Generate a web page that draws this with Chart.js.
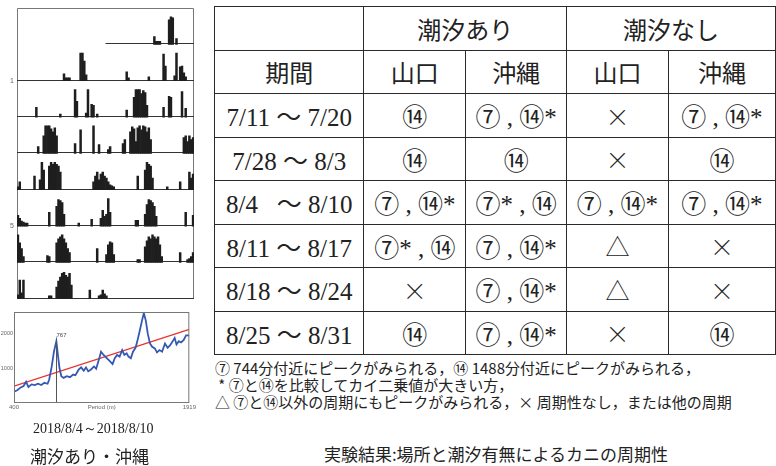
<!DOCTYPE html>
<html lang="ja">
<head>
<meta charset="UTF-8">
<title>実験結果:場所と潮汐有無によるカニの周期性</title>
<script src="https://cdn.jsdelivr.net/npm/chart.js@4.4.0/dist/chart.umd.min.js"></script>
<style>
body { margin:0; background:#fff; width:776px; height:466px; overflow:hidden; position:relative;
       font-family:"Noto Sans CJK JP", sans-serif; color:#222; }
#actoBox { position:absolute; left:0; top:0; width:195px; height:306px; }
#periodBox { position:absolute; left:0; top:305px; width:198px; height:110px; }
#dateCap { position:absolute; left:33px; top:420px; font:14px "Liberation Serif", serif; white-space:nowrap; }
#siteCap { position:absolute; left:30px; top:443px; font-size:17px; white-space:nowrap; }
#result { position:absolute; left:214px; top:6px; border-collapse:collapse; table-layout:fixed;
          font-family:"Liberation Serif","Noto Sans CJK JP",serif; font-size:25px; color:#222; }
#result td { border:1.5px solid #2a2a2a; padding:0; text-align:center; white-space:nowrap; overflow:hidden; }
#result tr { height:43.5px; }
#result td.jp { font-family:"Noto Sans CJK JP", sans-serif; font-size:24px; }
#result .mark { font-family:"Noto Sans CJK JP", sans-serif; font-weight:300; font-size:24px; }
#notes { position:absolute; left:215px; top:359px; font-size:15px; line-height:17px; white-space:nowrap; }
#title { position:absolute; left:296px; width:400px; top:441px; text-align:center; font-size:17px; white-space:nowrap; }
</style>
</head>
<body>

<div id="actoBox"><canvas id="actogram"></canvas></div>
<div id="periodBox"><canvas id="periodogram"></canvas></div>
<div id="dateCap">2018/8/4～2018/8/10</div>
<div id="siteCap">潮汐あり・沖縄</div>

<table id="result">
  <colgroup><col style="width:152px"><col style="width:104px"><col style="width:103px"><col style="width:104px"><col style="width:110px"></colgroup>
  <tbody id="resultBody"></tbody>
</table>

<div id="notes">
  <div>⑦ 744分付近にピークがみられる，⑭ 1488分付近にピークがみられる，</div>
  <div>&nbsp;* ⑦と⑭を比較してカイ二乗値が大きい方，</div>
  <div>△ ⑦と⑭以外の周期にもピークがみられる，× 周期性なし，または他の周期</div>
</div>
<div id="title">実験結果:場所と潮汐有無によるカニの周期性</div>

<script>
// activity counts, 96 bins of 15 min per day (null = not recorded yet)
var act1 = [null,null,null,null,null,null,null,null,null,null,null,null,
            null,null,null,null,null,null,null,null,null,null,null,null,
            null,null,null,null,null,null,null,null,null,null,null,null,
            null,null,null,null,null,null,null,null,null,null,null,null,
            0,0,0,0,0,0,0,0,0,0,0,0,
            0,0,0,0,0,0,0,0,0,0,0,0,
            0,0,8,3,3,3,0,0,0,0,25,28,
            27,0,6,0,0,0,0,0,0,0,0,0];
var act2 = [0,0,0,0,0,0,0,0,0,0,0,0,
            0,0,0,0,0,0,0,0,0,0,0,0,
            0,7,3,3,3,0,0,0,0,0,28,28,
            20,6,0,0,0,0,0,0,0,0,0,0,
            0,0,0,0,0,0,0,0,0,0,0,9,
            3,0,0,0,0,0,0,0,0,0,0,4,
            0,0,0,0,0,0,0,27,15,0,0,0,
            0,5,28,0,14,15,8,4,0,0,0,0];
var act3 = [0,0,0,0,0,0,0,0,0,0,10,0,
            0,0,0,0,0,0,0,0,0,0,0,3,
            0,0,0,0,0,0,0,28,16,0,0,0,
            0,4,28,0,13,12,0,3,0,0,0,0,
            0,0,0,0,0,0,0,0,0,0,0,7,
            0,0,0,20,28,28,28,24,27,25,12,0,
            0,0,0,0,0,0,0,10,0,0,21,20,
            0,0,0,0,0,26,0,9,0,0,0,0];
var act4 = [0,0,0,0,0,0,0,0,0,0,0,7,
            0,0,18,28,28,28,25,22,26,18,0,0,
            0,0,0,0,0,0,0,10,0,0,24,0,
            0,0,0,0,0,28,0,0,9,0,0,0,
            0,4,7,0,0,0,0,0,0,10,14,0,
            0,22,27,25,12,26,28,24,28,27,22,26,
            14,0,0,0,0,0,0,0,0,0,0,0,
            0,0,0,0,0,0,16,18,12,18,14,16];
var act5 = [3,8,0,0,0,0,0,0,0,14,0,0,
            10,28,20,0,0,24,28,26,28,26,24,18,
            0,0,0,0,0,0,0,0,0,0,0,0,
            0,0,0,0,0,8,14,18,10,16,18,14,
            12,8,5,4,3,0,0,0,0,0,0,0,
            0,0,0,0,0,14,0,0,0,20,28,26,
            24,12,0,0,0,0,0,0,0,3,0,0,
            0,0,0,0,8,0,0,0,0,18,12,16];
var act6 = [11,8,5,4,3,3,0,0,0,0,0,0,
            0,0,0,0,0,14,0,0,0,20,27,26,
            24,12,0,0,0,0,0,0,0,3,0,0,
            0,0,0,0,7,0,0,0,0,8,16,10,
            12,28,14,0,0,0,0,0,0,0,0,0,
            0,0,0,0,6,6,0,0,0,12,22,27,
            26,24,20,10,0,0,0,0,0,0,0,0,
            0,0,0,0,0,0,0,14,0,0,0,11];
var act7 = [28,20,14,6,0,0,0,0,0,0,0,0,
            0,0,0,0,7,6,0,0,0,20,24,26,
            28,24,20,14,10,0,0,0,0,0,0,0,
            0,0,0,0,0,0,0,14,0,0,0,0,
            8,18,21,20,8,0,0,0,0,0,0,0,
            0,0,0,0,0,3,3,0,0,16,22,26,
            24,28,26,24,26,18,6,0,0,0,0,0,
            0,0,0,0,10,0,0,0,3,4,6,10];
var act8 = [4,19,6,19,0,0,0,0,0,0,0,0,
            0,0,0,0,0,3,3,0,0,12,18,22,
            26,27,24,22,26,14,0,0,0,0,0,0,
            0,0,0,9,0,0,0,0,3,4,9,5,
            3,0,0,0,0,0,0,0,0,0,0,0,
            0,0,0,0,0,0,0,0,0,0,0,0,
            0,0,0,0,0,0,0,0,0,0,0,0,
            0,0,0,0,0,0,0,0,0,0,0,0];
var dayLabelRows = [1, 5];

// chi-square periodogram (period in minutes)
var periodMin = [400,428,455,483,505,525,552,580,608,636,663,691,705,727,746,767,777,794,810,830,
                 857,885,913,932,960,982,1004,1024,1043,1065,1093,1112,1135,1154,1176,1204,1232,1254,1273,1293,
                 1315,1337,1356,1376,1392,1412,1431,1453,1467,1487,1509,1525,1542,1559,1578,1597,1620,1639,1661,1683,
                 1708,1731,1753,1772,1792,1808,1828,1847,1869,1891,1911,1919];
var qpValue = [326,364,439,485,607,457,532,513,551,513,579,551,672,1046,1467,1770,1467,1000,766,719,
               766,738,813,794,953,1018,925,1018,906,953,1046,981,1233,1467,1373,1280,1187,1112,1280,1373,
               1327,1514,1373,1420,1327,1280,1467,1579,1748,2028,2355,2570,2355,1981,1701,1607,1561,1448,1514,1467,
               1701,1579,1654,1748,1860,1673,1766,1729,1794,1935,1935,1916];
var sigPeriod = [400, 1919];
var sigValue = [485, 2103];
var peakPeriod = 767;

// result table
var periods = ['7/11 ～ 7/20', '7/28 ～ 8/3', '8/4 &nbsp;&nbsp;～ 8/10', '8/11 ～ 8/17', '8/18 ～ 8/24', '8/25 ～ 8/31'];
var tideYamaguchi = ['⑭', '⑭', '⑦ , ⑭*', '⑦* , ⑭', '×', '⑭'];
var tideOkinawa = ['⑦ , ⑭*', '⑭', '⑦* , ⑭', '⑦ , ⑭*', '⑦ , ⑭*', '⑦ , ⑭*'];
var noTideYamaguchi = ['×', '×', '⑦ , ⑭*', '△', '△', '×'];
var noTideOkinawa = ['⑦ , ⑭*', '⑭', '⑦ , ⑭*', '×', '×', '⑭'];

function cell(s) {
  if (s === '×' || s === '△') return '<td><span class="mark">' + s + '</span></td>';
  return '<td>' + s + '</td>';
}

var html = '<tr><td></td><td class="jp" colspan="2">潮汐あり</td><td class="jp" colspan="2">潮汐なし</td></tr>' +
           '<tr><td class="jp">期間</td><td class="jp">山口</td><td class="jp">沖縄</td><td class="jp">山口</td><td class="jp">沖縄</td></tr>';
for (var i = 0; i < periods.length; i++) {
  html += '<tr><td>' + periods[i] + '</td>' + cell(tideYamaguchi[i]) + cell(tideOkinawa[i]) +
          cell(noTideYamaguchi[i]) + cell(noTideOkinawa[i]) + '</tr>';
}
document.getElementById('resultBody').innerHTML = html;

// ---- actogram ----
var ROW = 37;
var days = [act1, act2, act3, act4, act5, act6, act7, act8];
var bins = act1.map(function (v, i) { return i; });

function rowBase(r) { return (days.length - 1 - r) * ROW; }

var actoSets = days.map(function (day, r) {
  var base = rowBase(r);
  return {
    data: day.map(function (v) { return v ? [base, base + v] : null; }),
    backgroundColor: '#1e1e1e',
    borderWidth: 0,
    grouped: false,
    barPercentage: 1,
    categoryPercentage: 1
  };
});

var actoFrame = {
  id: 'actoFrame',
  beforeDatasetsDraw: function (chart) {
    var ctx = chart.ctx, a = chart.chartArea;
    var xs = chart.scales.x, ys = chart.scales.y;
    var half = (xs.getPixelForValue(1) - xs.getPixelForValue(0)) / 2;
    ctx.save();
    ctx.lineWidth = 1;
    ctx.strokeStyle = '#777';
    ctx.beginPath();
    ctx.moveTo(a.left + 0.5, a.bottom); ctx.lineTo(a.left + 0.5, a.top + 0.5);
    ctx.lineTo(a.right - 0.5, a.top + 0.5); ctx.lineTo(a.right - 0.5, a.bottom);
    ctx.stroke();
    ctx.strokeStyle = '#333';
    days.forEach(function (day, r) {
      var first = day.findIndex(function (v) { return v !== null; });
      var y = Math.round(ys.getPixelForValue(rowBase(r))) - 0.5;
      ctx.beginPath();
      ctx.moveTo(xs.getPixelForValue(first) - half, y);
      ctx.lineTo(a.right, y);
      ctx.stroke();
    });
    ctx.restore();
  }
};

new Chart(document.getElementById('actogram'), {
  type: 'bar',
  data: { labels: bins, datasets: actoSets },
  options: {
    responsive: true, maintainAspectRatio: false, animation: false,
    layout: { padding: { top: 8, bottom: 1, right: 1 } },
    plugins: { legend: { display: false }, tooltip: { enabled: false } },
    scales: {
      x: { display: false },
      y: {
        min: 0, max: days.length * ROW,
        afterFit: function (s) { s.width = 17; },
        afterBuildTicks: function (s) {
          s.ticks = dayLabelRows.map(function (r) { return { value: rowBase(r) }; });
        },
        ticks: {
          padding: 3, color: '#666', font: { family: 'Liberation Sans', size: 7 },
          callback: function (v) { return String(days.length - 1 - v / ROW); }
        },
        grid: { display: false, drawTicks: false },
        border: { display: false }
      }
    }
  },
  plugins: [actoFrame]
});

// ---- periodogram ----
var periodFrame = {
  id: 'periodFrame',
  afterDatasetsDraw: function (chart) {
    var ctx = chart.ctx, a = chart.chartArea;
    var xs = chart.scales.x, ys = chart.scales.y;
    var px = Math.round(xs.getPixelForValue(peakPeriod)) + 0.5;
    var py = ys.getPixelForValue(qpValue[periodMin.indexOf(peakPeriod)]);
    ctx.save();
    ctx.strokeStyle = '#555';
    ctx.lineWidth = 1;
    ctx.beginPath();
    ctx.moveTo(px, py); ctx.lineTo(px, a.bottom);
    ctx.stroke();
    ctx.fillStyle = '#444';
    ctx.font = '6px "Liberation Sans"';
    ctx.textBaseline = 'bottom';
    ctx.fillText(String(peakPeriod), px, py - 3);
    ctx.strokeStyle = '#777';
    ctx.strokeRect(a.left + 0.5, a.top + 0.5, a.right - a.left - 1, a.bottom - a.top);
    ctx.restore();
  }
};

var periodTicks = { 400: '400', 1159.5: 'Period (m)', 1919: '1919' };

new Chart(document.getElementById('periodogram'), {
  type: 'line',
  data: {
    datasets: [
      {
        data: periodMin.map(function (p, i) { return { x: p, y: qpValue[i] }; }),
        borderColor: '#3559b3', borderWidth: 1.8, pointRadius: 0, tension: 0
      },
      {
        data: sigPeriod.map(function (p, i) { return { x: p, y: sigValue[i] }; }),
        borderColor: '#e8312c', borderWidth: 1.2, pointRadius: 0
      }
    ]
  },
  options: {
    responsive: true, maintainAspectRatio: false, animation: false,
    layout: { padding: { top: 7, right: 2 } },
    plugins: { legend: { display: false }, tooltip: { enabled: false } },
    scales: {
      x: {
        type: 'linear', min: 400, max: 1919,
        afterFit: function (s) { s.height = 13; },
        afterBuildTicks: function (s) {
          s.ticks = [{ value: 400 }, { value: 1159.5 }, { value: 1919 }];
        },
        ticks: {
          padding: 2, color: '#666', maxRotation: 0, autoSkip: false,
          font: { family: 'Liberation Sans', size: 6 },
          callback: function (v) { return periodTicks[v]; }
        },
        grid: { display: false, drawTicks: false },
        border: { display: false }
      },
      y: {
        min: 30, max: 2600,
        afterFit: function (s) { s.width = 14; },
        afterBuildTicks: function (s) { s.ticks = [{ value: 1000 }, { value: 2000 }]; },
        ticks: {
          padding: 1, color: '#666', font: { family: 'Liberation Sans', size: 5.5 },
          callback: function (v) { return String(v); }
        },
        grid: { display: false, drawTicks: false },
        border: { display: false }
      }
    }
  },
  plugins: [periodFrame]
});
</script>
</body>
</html>
